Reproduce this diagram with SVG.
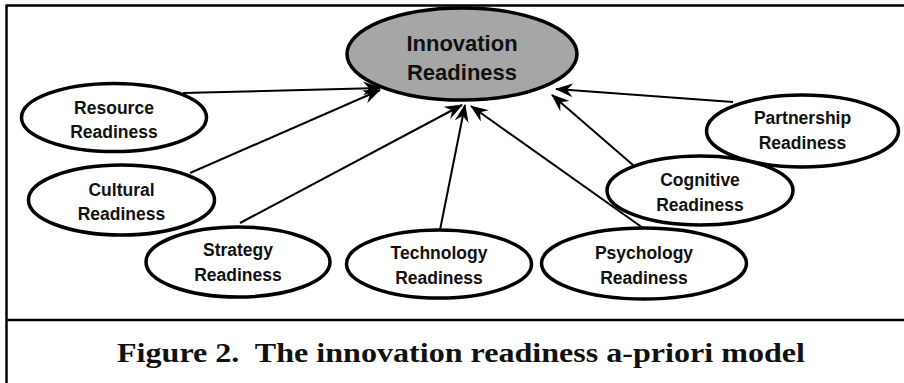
<svg xmlns="http://www.w3.org/2000/svg" width="904" height="383" viewBox="0 0 904 383">
  <style>
    .frame { stroke: #000; stroke-width: 2.5; fill: none; }
    .node { fill: #fff; stroke: #000; stroke-width: 3.5; }
    .core { fill: #a6a6a6; stroke: #000; stroke-width: 3.5; }
    .label { font-family: "Liberation Sans", Arial, sans-serif; font-weight: bold; font-size: 17.5px; fill: #111; text-anchor: middle; }
    .core-label { font-family: "Liberation Sans", Arial, sans-serif; font-weight: bold; font-size: 22px; fill: #111; text-anchor: middle; }
    .link { stroke: #000; stroke-width: 2; fill: none; marker-end: url(#arrow); }
    .caption { font-family: "Liberation Serif", "Times New Roman", serif; font-weight: bold; font-size: 27px; fill: #111; white-space: pre; }
  </style>
  <defs>
    <!-- barbed arrowhead shared by every connector -->
    <marker id="arrow" viewBox="0 0 18 14" refX="17" refY="7" markerWidth="18" markerHeight="14" markerUnits="userSpaceOnUse" orient="auto">
      <path d="M0,0 L18,7 L0,14 L6,7 z" fill="#000"/>
    </marker>
  </defs>

  <rect width="904" height="383" fill="#fff"/>

  <!-- frame and caption divider -->
  <g id="frame">
    <line class="frame" x1="6.5" y1="5.5" x2="904" y2="5.5"/>
    <line class="frame" x1="6.5" y1="4.5" x2="6.5" y2="383"/>
    <line class="frame" x1="6.5" y1="320" x2="904" y2="320"/>
  </g>

  <!-- connectors -->
  <g id="connectors">
    <line class="link" x1="183" y1="93" x2="380" y2="88"/>
    <line class="link" x1="190" y1="173" x2="380" y2="90"/>
    <line class="link" x1="240" y1="223" x2="462" y2="105"/>
    <line class="link" x1="440" y1="230" x2="465" y2="105"/>
    <line class="link" x1="643" y1="228" x2="471" y2="106"/>
    <line class="link" x1="633" y1="165" x2="552" y2="95"/>
    <line class="link" x1="733" y1="102" x2="556" y2="89"/>
  </g>

  <g id="innovation">
    <ellipse class="core" cx="462" cy="54" rx="115" ry="46"/>
    <text class="core-label" x="462" y="51">Innovation</text>
    <text class="core-label" x="462" y="80">Readiness</text>
  </g>

  <g id="resource">
    <ellipse class="node" cx="114" cy="117.5" rx="92.5" ry="34"/>
    <text class="label" x="114" y="114">Resource</text>
    <text class="label" x="114" y="138">Readiness</text>
  </g>

  <g id="cultural">
    <ellipse class="node" cx="121.5" cy="200" rx="93" ry="35"/>
    <text class="label" x="121.5" y="196">Cultural</text>
    <text class="label" x="121.5" y="220">Readiness</text>
  </g>

  <g id="strategy">
    <ellipse class="node" cx="238" cy="262" rx="92" ry="35"/>
    <text class="label" x="238" y="256">Strategy</text>
    <text class="label" x="238" y="281">Readiness</text>
  </g>

  <g id="technology">
    <ellipse class="node" cx="439" cy="264" rx="92.5" ry="34"/>
    <text class="label" x="439" y="259">Technology</text>
    <text class="label" x="439" y="284">Readiness</text>
  </g>

  <g id="psychology">
    <ellipse class="node" cx="644" cy="263.5" rx="102.5" ry="35.5"/>
    <text class="label" x="644" y="259">Psychology</text>
    <text class="label" x="644" y="284">Readiness</text>
  </g>

  <g id="cognitive">
    <ellipse class="node" cx="700" cy="190.5" rx="93" ry="34.5"/>
    <text class="label" x="700" y="186">Cognitive</text>
    <text class="label" x="700" y="211">Readiness</text>
  </g>

  <g id="partnership">
    <ellipse class="node" cx="802.5" cy="131" rx="96" ry="36"/>
    <text class="label" x="802.5" y="124">Partnership</text>
    <text class="label" x="802.5" y="149">Readiness</text>
  </g>

  <text class="caption" x="117" y="362" textLength="688" lengthAdjust="spacingAndGlyphs">Figure 2.  The innovation readiness a-priori model</text>
</svg>
